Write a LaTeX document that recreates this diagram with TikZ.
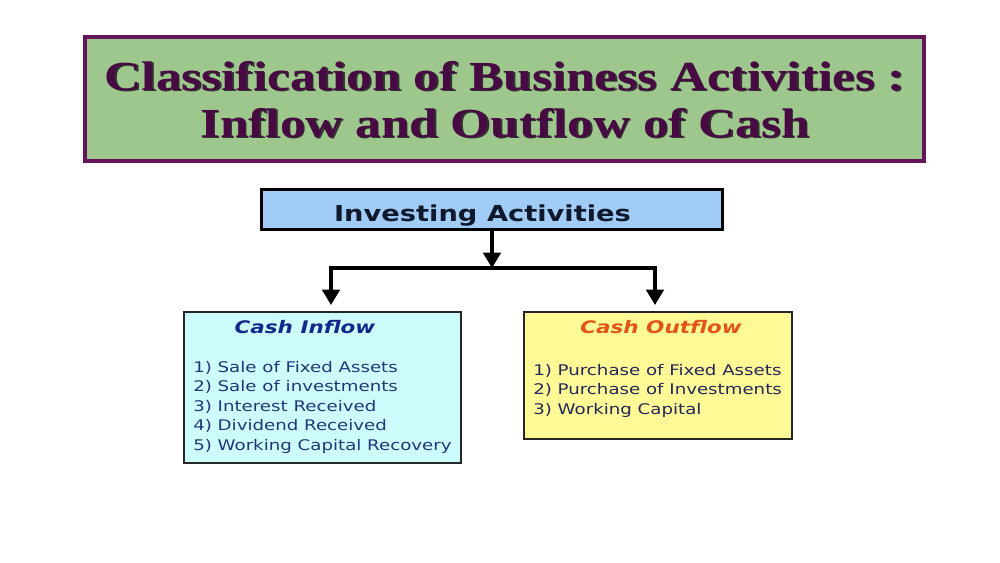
\documentclass[tikz,border=0pt]{standalone}
\usepackage{fontspec}
\setmainfont{Liberation Serif}
\newfontfamily\vfont{DejaVu Sans}
\usetikzlibrary{arrows.meta}
\definecolor{titlegreen}{RGB}{157,199,140}
\definecolor{titlepurple}{RGB}{100,20,90}
\definecolor{titletextc}{RGB}{72,10,66}
\definecolor{investblue}{RGB}{160,204,245}
\definecolor{inflowfill}{RGB}{204,252,252}
\definecolor{outflowfill}{RGB}{255,250,150}
\definecolor{inflowhead}{RGB}{20,40,140}
\definecolor{outflowhead}{RGB}{225,85,25}
\definecolor{itemblue}{RGB}{35,55,120}
\definecolor{itemdark}{RGB}{35,40,90}
\newcommand\wtxt[1]{\scalebox{1.24}[1]{#1}}
\begin{document}
\begin{tikzpicture}[x=0.75pt,y=-0.75pt,
  box/.style={draw, inner sep=0pt, outer sep=0pt},
  titlefont/.style={font=\fontsize{31}{35.25}\selectfont\bfseries, align=center, inner sep=0pt},
  itemlist/.style={font=\vfont\fontsize{11}{14.6}\selectfont, inner sep=0pt, anchor=north west},
  headfont/.style={font=\vfont\bfseries\itshape\fontsize{13}{15}\selectfont, inner sep=0pt, anchor=base},
  connector/.style={line width=2.6pt, -{Triangle[width=13pt,length=11.5pt]}}]
\useasboundingbox (0,0) rectangle (1000,562);
\fill[white] (0,0) rectangle (1000,562);

% title box
\node[box, draw=titlepurple, line width=3.2pt, fill=titlegreen,
      minimum width=839*0.75pt, minimum height=124*0.75pt] (title) at (504.5,99) {};
\node[titlefont, text=black!80] (titleshadow) at (506.5,101)
  {\wtxt{Classification of Business Activities :}\\\wtxt{Inflow and Outflow of Cash}};
\node[titlefont, text=titletextc] (titletext) at (505,99.5)
  {\wtxt{Classification of Business Activities :}\\\wtxt{Inflow and Outflow of Cash}};

% investing activities
\node[box, line width=2.4pt, fill=investblue,
      minimum width=461*0.75pt, minimum height=40*0.75pt] (invest) at (492,209.5) {};
\node[font=\vfont\bfseries\fontsize{16.5}{18}\selectfont, text={rgb,255:red,15;green,25;blue,45},
      inner sep=0pt, anchor=base] (investtext) at (482.5,221) {\wtxt{Investing Activities}};

% boxes
\node[box, line width=1.7pt, draw=black!85, fill=inflowfill,
      minimum width=277*0.75pt, minimum height=151*0.75pt] (inflow) at (322.5,387.5) {};
\node[box, line width=1.7pt, draw=black!85, fill=outflowfill,
      minimum width=268*0.75pt, minimum height=127*0.75pt] (outflow) at (658,375.5) {};

% connectors
\coordinate (junc) at (492,268);
\coordinate (inarrow) at (331,305);
\coordinate (outarrow) at (655,305);
\draw[connector] (invest.south -| junc) -- (junc);
\draw[connector] (junc) -| (inarrow);
\draw[connector] (junc) -| (outarrow);

% inflow text
\node[headfont, text=inflowhead] (inhead) at (305,333) {\wtxt{Cash Inflow}};
\node[itemlist, text=itemblue] (initems) at (193,358.4)
  {\wtxt{\begin{tabular}{@{}l@{}}1) Sale of Fixed Assets\\2) Sale of investments\\3) Interest Received\\4) Dividend Received\\5) Working Capital Recovery\end{tabular}}};

% outflow text
\node[headfont, text=outflowhead] (outhead) at (661,333) {\wtxt{Cash Outflow}};
\node[itemlist, text=itemdark] (outitems) at (533,361.4)
  {\wtxt{\begin{tabular}{@{}l@{}}1) Purchase of Fixed Assets\\2) Purchase of Investments\\3) Working Capital\end{tabular}}};
\end{tikzpicture}
\end{document}
